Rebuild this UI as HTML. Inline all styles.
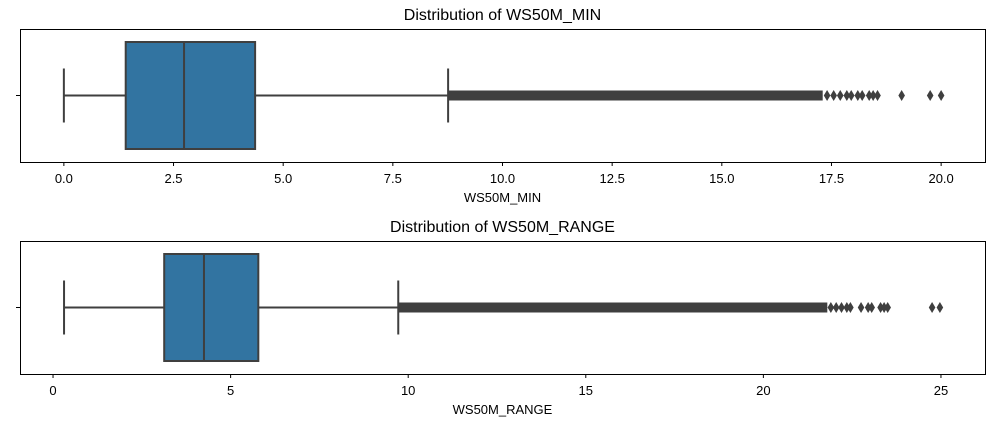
<!DOCTYPE html>
<html><head><meta charset="utf-8"><style>
body{margin:0;background:#fff;}
svg text{font-family:"Liberation Sans","DejaVu Sans",sans-serif;fill:#000;}
</style></head><body>
<svg id="chart" width="1000" height="439" viewBox="0 0 1000 439"></svg>
<script>
// ---- data ----
const panelTitles = ["Distribution of WS50M_MIN", "Distribution of WS50M_RANGE"];
const axisLabels = ["WS50M_MIN", "WS50M_RANGE"];
const tickValuesMin = [0, 2.5, 5, 7.5, 10, 12.5, 15, 17.5, 20];
const tickLabelsMin = ["0.0","2.5","5.0","7.5","10.0","12.5","15.0","17.5","20.0"];
const tickValuesRange = [0, 5, 10, 15, 20, 25];
const tickLabelsRange = ["0","5","10","15","20","25"];
const statsMin = [0.0, 1.41, 2.74, 4.36, 8.76];      // whiskerLow, q1, median, q3, whiskerHigh
const statsRange = [0.31, 3.13, 4.25, 5.78, 9.72];
const denseMin = [8.76, 17.3];
const denseRange = [9.72, 21.8];
const outliersMin = [17.4, 17.55, 17.7, 17.85, 17.95, 18.1, 18.2, 18.36, 18.45, 18.55, 19.1, 19.75, 20.0];
const outliersRange = [21.9, 22.05, 22.2, 22.35, 22.45, 22.75, 22.95, 23.05, 23.3, 23.4, 23.5, 24.75, 24.97];
const domainMin = [-1.0, 21.0];
const domainRange = [-0.93, 26.24];

const svg = document.getElementById('chart');
const NS = 'http://www.w3.org/2000/svg';
function mk(tag, attrs, parent){const e=document.createElementNS(NS,tag);for(const k in attrs)e.setAttribute(k,attrs[k]);(parent||svg).appendChild(e);return e;}

function panel(idx, top, title, label, ticks, tickLabels, stats, dense, outliers, domain){
  const L=20,R=985,T=top,B=top+133;
  const g=mk('g',{});
  
  
  const x=v=>L+(v-domain[0])/(domain[1]-domain[0])*(R-L);
  const cy=(T+B)/2;
  const t=mk('text',{x:(L+R)/2,y:T-9,'text-anchor':'middle','font-size':16},g);
  t.textContent=title;
  
  
  // whiskers
  const col='#3f3f3f';
  const w1=mk('line',{x1:x(stats[0]),x2:x(stats[1]),y1:cy,y2:cy,stroke:col,'stroke-width':2},g);
  
  
  const w2=mk('line',{x1:x(stats[3]),x2:x(stats[4]),y1:cy,y2:cy,stroke:col,'stroke-width':2},g);
  
  
  [stats[0],stats[4]].forEach(v=>{
    const c=mk('line',{x1:x(v),x2:x(v),y1:cy-27,y2:cy+27,stroke:col,'stroke-width':2},g);
    
    
  });
  // dense outliers
  const d=mk('rect',{x:x(dense[0]),y:cy-5,width:x(dense[1])-x(dense[0]),height:10,fill:col},g);
  
  
  outliers.forEach(v=>{
    const px=x(v);
    const p=mk('polygon',{points:`${px},${cy-5.5} ${px+3.3},${cy} ${px},${cy+5.5} ${px-3.3},${cy}`,fill:col},g);
    
    
  });
  // box
  const bx=mk('rect',{x:x(stats[1]),y:T+13,width:x(stats[3])-x(stats[1]),height:107,fill:'#3274a1',stroke:col,'stroke-width':2},g);
  
  
  const md=mk('line',{x1:x(stats[2]),x2:x(stats[2]),y1:T+13,y2:T+120,stroke:col,'stroke-width':2},g);
  
  
  // frame
  const fr=mk('rect',{x:L+0.5,y:T+0.5,width:R-L,height:B-T,fill:'none',stroke:'#000','stroke-width':1},g);
  
  
  const yt=mk('line',{x1:L-4,x2:L,y1:cy,y2:cy,stroke:'#000'},g);
  
  
  ticks.forEach((v,i)=>{
    const tk=mk('line',{x1:x(v),x2:x(v),y1:B,y2:B+4,stroke:'#000'},g);
    
    
    const tl=mk('text',{x:x(v),y:B+21,'text-anchor':'middle','font-size':13},g);
    tl.textContent=tickLabels[i];
    
    
  });
  const xl=mk('text',{x:(L+R)/2,y:B+40,'text-anchor':'middle','font-size':13},g);
  xl.textContent=label;
  
  
}
panel(0,29,panelTitles[0],axisLabels[0],tickValuesMin,tickLabelsMin,statsMin,denseMin,outliersMin,domainMin);
panel(1,241,panelTitles[1],axisLabels[1],tickValuesRange,tickLabelsRange,statsRange,denseRange,outliersRange,domainRange);
</script>
</body></html>
